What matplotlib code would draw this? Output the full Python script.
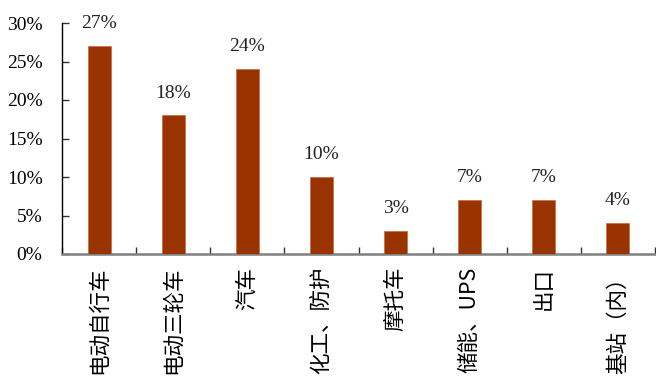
import matplotlib
matplotlib.use("Agg")
import matplotlib.pyplot as plt
import numpy as np

categories = ["电动自行车", "电动三轮车", "汽车", "化工、防护", "摩托车", "储能、UPS", "出口", "基站（内）"]
values = [27, 18, 24, 10, 3, 7, 7, 4]
yticks = [0, 5, 10, 15, 20, 25, 30]

plt.rcParams['font.family'] = ['Liberation Serif', 'Noto Sans CJK SC', 'DejaVu Sans']

fig = plt.figure(figsize=(6.56, 3.89), dpi=100)
ax = fig.add_axes([62/656, 1-254/389, 593/656, (254-23)/389])

x = np.arange(len(categories))
ax.bar(x, values, width=0.31, color='#993300', edgecolor='#c96a40', linewidth=0.5, zorder=3)

for xi, v in zip(x, values):
    ax.annotate(f"{v}%", (xi, v), xytext=(0, 10), textcoords='offset points',
                ha='center', va='bottom', fontsize=14, color='#222222')

ax.set_xlim(-0.5, len(categories) - 0.5)
ax.set_ylim(0, 30)
ax.set_yticks(yticks)
ax.set_yticklabels([f"{t}%" for t in yticks], fontsize=14)

ax.set_xticks(x)
ax.set_xticklabels(categories, rotation=90, fontsize=15.5,
                   family=['Noto Sans CJK SC', 'DejaVu Sans'], va='top', ha='center')
ax.tick_params(axis='x', which='major', length=0, pad=9)
ax.set_xticks(np.arange(len(categories) + 1) - 0.5, minor=True)
ax.tick_params(axis='x', which='minor', direction='in', length=5, width=1, color='#333333')
ax.tick_params(axis='y', direction='in', length=5, width=1, pad=14, color='#333333')

for s in ['top', 'right']:
    ax.spines[s].set_visible(False)
ax.spines['left'].set_color('#000000')
ax.spines['left'].set_linewidth(1.0)
ax.spines['bottom'].set_color('#7f7f7f')
ax.spines['bottom'].set_linewidth(1.8)

fig.savefig("out.png", dpi=100)
